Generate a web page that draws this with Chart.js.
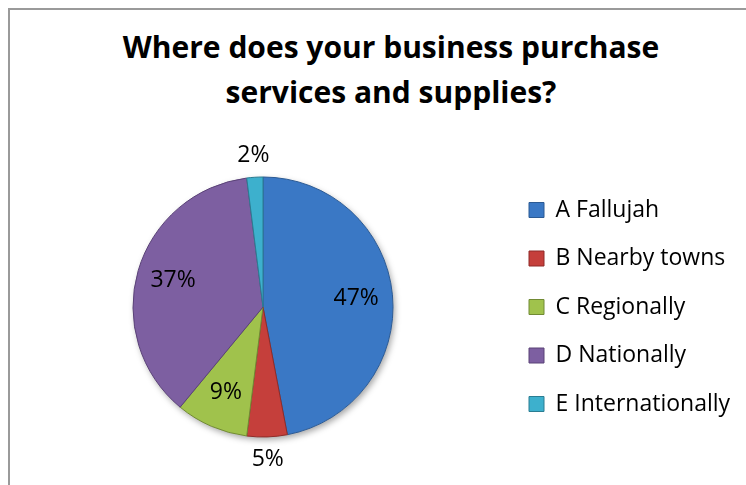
<!DOCTYPE html>
<html>
<head>
<meta charset="utf-8">
<script src="https://cdn.jsdelivr.net/npm/chart.js@4.4.1/dist/chart.umd.min.js"></script>
<style>
    html, body { margin: 0; padding: 0; background: #fff; overflow: hidden; }
    #wrap { position: relative; width: 746px; height: 485px; overflow: hidden; }
    #frame {
        position: absolute; left: 8px; top: 8px; width: 800px; height: 520px;
        border-left: 2px solid #9a9a9a; border-top: 2px solid #9a9a9a;
    }
    #title {
        position: absolute; left: 41px; width: 700px; top: 24px;
        text-align: center; font-family: "Open Sans", sans-serif; font-weight: bold;
        font-size: 30px; line-height: 45px; color: #000;
    }
    #pie { position: absolute; left: 0; top: 0; }
</style>
</head>
<body>
<div id="wrap">
    <div id="frame"></div>
    <div id="title">Where does your business purchase<br>services and supplies?</div>
    <canvas id="pie" width="746" height="485"></canvas>
</div>
<script>
// Survey answers (percent of businesses)
const categories = ["A Fallujah", "B Nearby towns", "C Regionally", "D Nationally", "E Internationally"];
const shares = [47, 5, 9, 37, 2];
const sliceColors = ["#3a78c5", "#c53f3b", "#a0c24c", "#7d5fa1", "#3db0cd"];
const edgeColors = ["#2b5a94", "#8f2b28", "#718a34", "#5a4277", "#2a7d92"];

// slices under this share get their label outside the pie
const outsideBelow = 6;

const labelFont = { family: "'Open Sans', sans-serif", size: 23 };
const legendPad = 25.5;
const legendBox = 15;

// darken/lighten a hex colour by a factor
function shade(hex, f) {
    const n = parseInt(hex.slice(1), 16);
    const c = [(n >> 16) & 255, (n >> 8) & 255, n & 255].map(v => {
        const out = f < 0 ? v * (1 + f) : v + (255 - v) * f;
        return Math.round(Math.max(0, Math.min(255, out)));
    });
    return `rgb(${c[0]}, ${c[1]}, ${c[2]})`;
}

// radial fill with a soft rim, so slices look slightly domed
function sliceFill(context) {
    const i = context.dataIndex;
    const base = sliceColors[i];
    const chart = context.chart;
    const arc = chart.getDatasetMeta(0).data[i];
    if (!arc || !arc.outerRadius) return base;
    const { x, y, outerRadius } = arc.getProps(["x", "y", "outerRadius"], true);
    const g = chart.ctx.createRadialGradient(x, y, 0, x, y, outerRadius);
    g.addColorStop(0, shade(base, 0.04));
    g.addColorStop(0.86, base);
    g.addColorStop(0.93, shade(base, 0.06));
    g.addColorStop(1, shade(base, -0.3));
    return g;
}

// soft drop shadow behind the whole pie
const pieShadow = {
    id: "pieShadow",
    beforeDatasetsDraw(chart) {
        const arc = chart.getDatasetMeta(0).data[0];
        if (!arc) return;
        const { x, y, outerRadius } = arc.getProps(["x", "y", "outerRadius"], true);
        const ctx = chart.ctx;
        ctx.save();
        ctx.shadowColor = "rgba(0, 0, 0, 0.35)";
        ctx.shadowBlur = 6;
        ctx.shadowOffsetX = 2;
        ctx.shadowOffsetY = 3;
        ctx.fillStyle = "#fff";
        ctx.beginPath();
        ctx.arc(x, y, outerRadius, 0, Math.PI * 2);
        ctx.fill();
        ctx.restore();
    }
};

// percentage labels, inside big slices and just outside small ones
const pctLabels = {
    id: "pctLabels",
    afterDatasetsDraw(chart) {
        const ctx = chart.ctx;
        const meta = chart.getDatasetMeta(0);
        ctx.save();
        ctx.font = `${labelFont.size}px ${labelFont.family}`;
        ctx.fillStyle = "#000";
        ctx.textAlign = "center";
        ctx.textBaseline = "middle";
        meta.data.forEach((arc, i) => {
            const { x, y, startAngle, endAngle, outerRadius } =
                arc.getProps(["x", "y", "startAngle", "endAngle", "outerRadius"], true);
            const mid = (startAngle + endAngle) / 2;
            const v = shares[i];
            const dist = v < outsideBelow ? outerRadius * 1.17 : outerRadius * 0.72;
            ctx.fillText(v + "%", x + Math.cos(mid) * dist, y + Math.sin(mid) * dist);
        });
        ctx.restore();
    }
};

// width the legend box will claim, so the pie can sit left of it
const measure = document.createElement("canvas").getContext("2d");
measure.font = `${labelFont.size}px ${labelFont.family}`;
const longest = Math.max(...categories.map(t => measure.measureText(t).width));
const legendWidth = legendPad + legendBox + labelFont.size / 2 + longest + 10;
const legendLeft = 503.5;

const ctx = document.getElementById("pie").getContext("2d");

new Chart(ctx, {
    type: "pie",
    data: {
        labels: categories,
        datasets: [{
            data: shares,
            backgroundColor: sliceFill,
            borderColor: edgeColors,
            borderWidth: 1,
        }],
    },
    options: {
        responsive: false,
        animation: false,
        devicePixelRatio: 1,
        radius: 130,
        layout: {
            padding: { left: 22.5, right: 746 - legendLeft - legendWidth, top: 157, bottom: 28 },
        },
        plugins: {
            title: { display: false },
            tooltip: { enabled: false },
            legend: {
                position: "right",
                labels: {
                    boxWidth: legendBox,
                    boxHeight: legendBox,
                    padding: legendPad,
                    color: "#000",
                    font: labelFont,
                    generateLabels: (chart) => categories.map((label, i) => ({
                        text: label,
                        fillStyle: sliceColors[i],
                        strokeStyle: edgeColors[i],
                        lineWidth: 1,
                        hidden: false,
                        index: i,
                    })),
                },
            },
        },
    },
    plugins: [pieShadow, pctLabels],
});
</script>
</body>
</html>
